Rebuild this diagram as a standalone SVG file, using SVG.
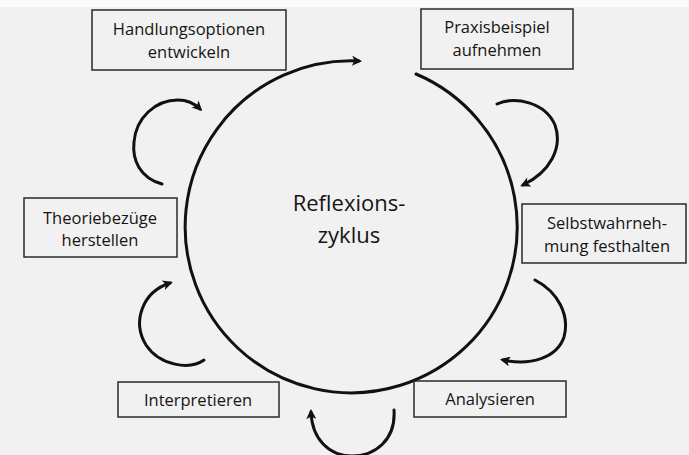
<svg xmlns="http://www.w3.org/2000/svg" width="689" height="455" viewBox="0 0 689 455">
  <style>
    .box rect { fill: none; stroke: #2a2a2a; stroke-width: 1.5; }
    .box text, .center text { font-family: "Open Sans", "Liberation Sans", sans-serif; fill: #151515; text-anchor: middle; }
    .box text { font-size: 16.5px; }
    .center text { font-size: 22px; }
    .conn path { fill: none; stroke: #111; stroke-width: 3; stroke-linecap: round; marker-end: url(#ah); }
  </style>
  <defs>
    <marker id="ah" viewBox="0 0 10 10" refX="7" refY="5" markerWidth="11" markerHeight="10" markerUnits="userSpaceOnUse" orient="auto">
      <path d="M0,0 L10,5 L0,10 L2.5,5 z" fill="#111"/>
    </marker>
  </defs>
  <rect x="0" y="0" width="689" height="455" fill="#f1f1f1"/>
  <rect x="0" y="0" width="689" height="7" fill="#fbfbfb"/>

  <g id="center" class="center">
    <text x="349" y="211">Reflexions-</text>
    <text x="349" y="243">zyklus</text>
  </g>

  <g id="connectors" class="conn">
    <path id="cycle" d="M416,74 A166,166 0 1 1 359,61"/>
    <path d="M162,184 C140,178 132,160 134,142 C136,118 155,100 178,100 C188,100 195,104 200,109"/>
    <path d="M497,104 C515,96 545,102 555,125 C563,148 550,172 523,185"/>
    <path d="M535,280 C558,292 570,315 564,337 C557,358 530,366 503,360"/>
    <path d="M394,410 C396,440 375,456 352,456 C330,456 312,440 311,412"/>
    <path d="M204,360 C190,370 160,366 146,345 C132,322 142,292 170,283"/>
  </g>

  <g id="handlungsoptionen" class="box">
    <rect x="92" y="10" width="194" height="60"/>
    <text x="189" y="35">Handlungsoptionen</text>
    <text x="189" y="58">entwickeln</text>
  </g>
  <g id="praxisbeispiel" class="box">
    <rect x="421" y="9" width="152" height="60"/>
    <text x="497" y="33">Praxisbeispiel</text>
    <text x="497" y="56">aufnehmen</text>
  </g>
  <g id="theoriebezuege" class="box">
    <rect x="24" y="198" width="153" height="59"/>
    <text x="100" y="224">Theoriebezüge</text>
    <text x="100" y="246">herstellen</text>
  </g>
  <g id="selbstwahrnehmung" class="box">
    <rect x="522" y="204" width="164" height="59"/>
    <text x="607" y="229">Selbstwahrneh-</text>
    <text x="607" y="252">mung festhalten</text>
  </g>
  <g id="interpretieren" class="box">
    <rect x="118" y="382" width="161" height="35"/>
    <text x="198" y="406">Interpretieren</text>
  </g>
  <g id="analysieren" class="box">
    <rect x="414" y="381" width="152" height="36"/>
    <text x="490" y="405">Analysieren</text>
  </g>
</svg>
